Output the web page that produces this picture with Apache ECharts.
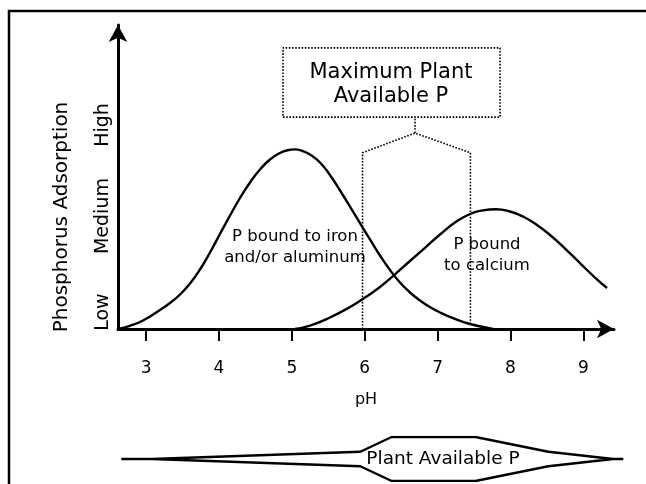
<!DOCTYPE html>
<html>
<head>
<meta charset="utf-8">
<script src="https://cdn.jsdelivr.net/npm/echarts@6/dist/echarts.min.js"></script>
<style>html,body{margin:0;padding:0;background:#fff}#c{width:646px;height:484px}</style>
</head>
<body>
<div id="c"></div>
<script>
// ---- data ----
const phTicks = [3, 4, 5, 6, 7, 8, 9];
const levelLabels = ['Low', 'Medium', 'High'];
const levelValues = [5.4, 36.2, 65.4];

const ironPH  = [2.615, 2.780, 2.958, 3.191, 3.328, 3.466, 3.603, 3.740, 3.877, 4.014, 4.152, 4.289, 4.426, 4.563, 4.700, 4.837, 4.940, 5.043, 5.146, 5.249, 5.386, 5.523, 5.661, 5.798, 5.935, 6.072, 6.209, 6.347, 6.484, 6.621, 6.758, 6.895, 7.033, 7.238, 7.444, 7.760];
const ironVal = [0, 1.03, 2.72, 6.09, 8.33, 11.06, 14.58, 19.07, 24.52, 30.45, 36.38, 41.99, 46.96, 51.12, 54.33, 56.41, 57.30, 57.56, 57.05, 55.93, 53.37, 49.36, 44.39, 39.26, 33.97, 28.69, 23.56, 18.91, 14.90, 11.70, 9.13, 7.05, 5.29, 3.21, 1.60, 0];

const calciumPH  = [5.043, 5.249, 5.523, 5.798, 6.004, 6.209, 6.415, 6.621, 6.827, 7.033, 7.238, 7.444, 7.622, 7.801, 7.993, 8.171, 8.363, 8.542, 8.720, 8.953, 9.186, 9.324];
const calciumVal = [0, 1.09, 3.69, 7.05, 10.10, 13.46, 17.53, 21.79, 26.03, 30.29, 34.13, 36.86, 38.04, 38.40, 37.66, 36.06, 33.33, 30.13, 26.44, 21.15, 15.87, 13.14];

// maximum plant available P range (dotted outline)
const optimumPH  = [5.97, 5.97, 6.69, 7.45, 7.45];
const optimumVal = [0, 56.5, 62.8, 56.5, 1.2];
const stemPH  = [6.69, 6.69];
const stemVal = [62.8, 67.9];
const boxPH  = [4.879, 7.857, 7.857, 4.879, 4.879];
const boxVal = [67.9, 67.9, 90.1, 90.1, 67.9];

// plant available P band (bottom)
const availPH  = [2.66, 3.08, 5.94, 6.37, 7.52, 8.52, 9.41, 9.55, 9.41, 8.52, 7.52, 6.37, 5.94, 3.08, 2.66];
const availVal = [0, 0, 0.33, 1, 1, 0.33, 0, 0, 0, -0.33, -1, -1, -0.33, 0, 0];

const zip = (a, b) => a.map((v, i) => [v, b[i]]);
const FONT = 'DejaVu Sans';

const chart = echarts.init(document.getElementById('c'), null, {renderer: 'canvas'});
chart.setOption({
  animation: false,
  backgroundColor: '#fff',
  grid: [
    {left: 118, right: 32, top: 25, bottom: 155},
    {left: 118, right: 19, top: 437, bottom: 3}
  ],
  xAxis: [
    {
      type: 'value', gridIndex: 0, min: 2.615, max: 9.42,
      axisLine: {show: true, symbol: ['none', 'arrow'], symbolSize: [14, 17], lineStyle: {color: '#000', width: 3}},
      axisTick: {show: true, customValues: phTicks, length: 12, lineStyle: {color: '#000', width: 2}},
      axisLabel: {show: true, customValues: phTicks, margin: 31, fontSize: 17, color: '#000', fontFamily: FONT},
      splitLine: {show: false},
      name: 'pH', nameLocation: 'middle', nameGap: 63,
      nameTextStyle: {fontSize: 16, color: '#000', fontFamily: FONT}
    },
    {
      type: 'value', gridIndex: 1, min: 2.615, max: 9.6, show: false
    }
  ],
  yAxis: [
    {
      type: 'value', gridIndex: 0, min: 0, max: 97.44,
      axisLine: {show: true, symbol: ['none', 'arrow'], symbolSize: [14, 17], lineStyle: {color: '#000', width: 3}},
      axisTick: {show: false},
      axisLabel: {
        show: true, customValues: levelValues, rotate: 90, margin: 5, fontSize: 19, color: '#000', fontFamily: FONT,
        formatter: function (v) { const i = levelValues.indexOf(v); return i >= 0 ? levelLabels[i] : ''; }
      },
      splitLine: {show: false}
    },
    {type: 'value', gridIndex: 1, min: -1, max: 1, show: false}
  ],
  series: [
    {type: 'line', xAxisIndex: 0, yAxisIndex: 0, data: zip(ironPH, ironVal), smooth: 0.5, symbol: 'none',
     lineStyle: {color: '#000', width: 2.4}},
    {type: 'line', xAxisIndex: 0, yAxisIndex: 0, data: zip(calciumPH, calciumVal), smooth: 0.5, symbol: 'none',
     lineStyle: {color: '#000', width: 2.4}},
    {type: 'line', xAxisIndex: 0, yAxisIndex: 0, data: zip(optimumPH, optimumVal), symbol: 'none',
     lineStyle: {color: '#000', width: 1.6, type: 'dotted'}},
    {type: 'line', xAxisIndex: 0, yAxisIndex: 0, data: zip(stemPH, stemVal), symbol: 'none',
     lineStyle: {color: '#000', width: 1.6, type: 'dotted'}},
    {type: 'line', xAxisIndex: 0, yAxisIndex: 0, data: zip(boxPH, boxVal), symbol: 'none',
     lineStyle: {color: '#000', width: 1.6, type: 'dotted'}},
    {type: 'line', xAxisIndex: 1, yAxisIndex: 1, data: zip(availPH, availVal), symbol: 'none',
     lineStyle: {color: '#000', width: 2.4}}
  ],
  graphic: [
    {type: 'rect', shape: {x: 9, y: 11, width: 700, height: 600}, style: {fill: 'none', stroke: '#000', lineWidth: 2.5}, silent: true},
    {type: 'text', x: 62, y: 217, rotation: Math.PI / 2,
     style: {text: 'Phosphorus Adsorption', fontSize: 20, fontFamily: FONT, fill: '#000', align: 'center', verticalAlign: 'middle'}},
    {type: 'text', x: 391, y: 85,
     style: {text: 'Maximum Plant\nAvailable P', fontSize: 21, lineHeight: 24, fontFamily: FONT, fill: '#000', align: 'center', verticalAlign: 'middle'}},
    {type: 'text', x: 295, y: 247,
     style: {text: 'P bound to iron\nand/or aluminum', fontSize: 16.5, lineHeight: 21, fontFamily: FONT, fill: '#000', align: 'center', verticalAlign: 'middle'}},
    {type: 'text', x: 487, y: 255,
     style: {text: 'P bound\nto calcium', fontSize: 16.5, lineHeight: 21, fontFamily: FONT, fill: '#000', align: 'center', verticalAlign: 'middle'}},
    {type: 'text', x: 443, y: 459,
     style: {text: 'Plant Available P', fontSize: 18.5, fontFamily: FONT, fill: '#000', align: 'center', verticalAlign: 'middle'}}
  ]
});
</script>
</body>
</html>
